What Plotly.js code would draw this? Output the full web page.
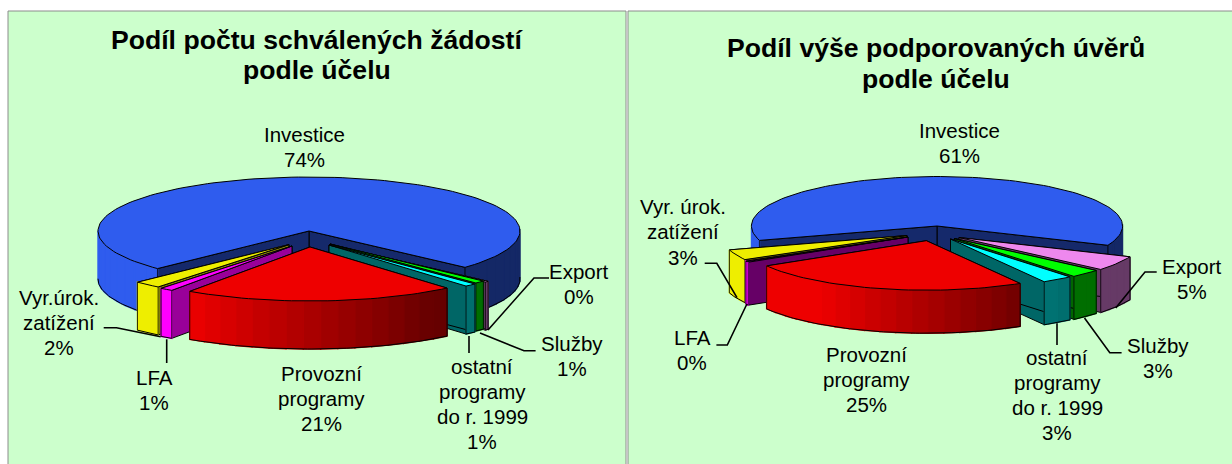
<!DOCTYPE html>
<html>
<head>
<meta charset="utf-8">
<script src="https://cdn.plot.ly/plotly-3.0.1.min.js"></script>
<style>html,body{margin:0;padding:0;background:#fff;overflow:hidden}#c{width:1232px;height:464px}</style>
</head>
<body>
<div id="c"></div>
<script>
// ---- data ----
const titleA = ['Podíl počtu schválených žádostí', 'podle účelu'];
const titleB = ['Podíl výše podporovaných úvěrů', 'podle účelu'];
const categoriesA = ['Investice', 'Export', 'Služby', 'ostatní\nprogramy\ndo r. 1999', 'Provozní\nprogramy', 'LFA', 'Vyr.úrok.\nzatížení'];
const categoriesB = ['Investice', 'Export', 'Služby', 'ostatní\nprogramy\ndo r. 1999', 'Provozní\nprogramy', 'LFA', 'Vyr. úrok.\nzatížení'];
const valuesA = [74.0, 0.3, 0.8, 0.9, 20.9, 1.0, 2.1];
const valuesB = [61.0, 4.8, 2.7, 2.7, 24.9, 0.4, 3.4];

// ---- styles ----
const topColors = ['#2F5CEE', '#EE88EE', '#00FF00', '#00FFFF', '#EE0000', '#FF00FF', '#EEEE00'];
const paintOrder = [0, 1, 2, 3, 6, 5, 4];

// ---- layout of the two pseudo-3D pies ----
const chartA = {
  ax: 'x', ay: 'y', values: valuesA, cats: categoriesA, title: titleA,
  cx: 309, cy: 231, rx: 211, ry: 54, depth: 48, start: 225.9,
  offs: [[0, 0], [23, 14], [21, 13], [20, 14], [1, 16], [-17, 15], [-20, 13.6]],
  wallShade: [0.45, 0.42, 0.4, 0.4, 0.4, 0.6, 0.55],
  titleAt: [316.6, 40, 30],
  labelAt: [[304, 135], [578.5, 271], [572, 343], [482, 366], [321, 373], [154, 377], [59, 297]],
  leaders: [
    [[549, 278], [534, 278], [488, 330]],
    [[535.6, 350.7], [524, 350.7], [480, 333]],
    [[469, 336], [469, 353]],
    [[166.7, 339.3], [166.7, 363]],
    [[103.7, 327.7], [116.5, 327.7], [160.7, 336.7]]
  ]
};
const chartB = {
  ax: 'x2', ay: 'y2', values: valuesB, cats: categoriesB, title: titleB,
  cx: 937, cy: 226, rx: 185.6, ry: 49.5, depth: 43, start: 253.1,
  offs: [[0, 0], [22, 11.5], [17.5, 12.5], [13.5, 13], [-10.6, 14.7], [-29, 11], [-30, 9.5]],
  wallShade: [0.45, 0.43, 0.4, 0.4, 0.4, 0.4, 0.55],
  titleAt: [936, 48, 31],
  labelAt: [[959, 131], [1192, 266], [1158, 345], [1057, 357], [866, 354], [692, 337], [683, 207]],
  leaders: [
    [[1156.7, 272], [1145, 272], [1115.7, 308]],
    [[1121.6, 352.7], [1109.8, 352.7], [1084.5, 318]],
    [[1057, 323.3], [1057, 345]],
    [[716.4, 345], [727.3, 345], [746.9, 304]],
    [[704.7, 263.3], [716.8, 263.3], [737, 297.7]]
  ]
};

function shadeHex(hex, f) {
  const n = parseInt(hex.slice(1), 16);
  const c = [(n >> 16) & 255, (n >> 8) & 255, n & 255].map(v => Math.round(v * f));
  return 'rgb(' + c.join(',') + ')';
}
function arcShade(deg) {
  const t = ((deg % 360) + 360) % 360;
  if (t > 270 || t < 90) return 1;
  return 0.43 + 0.57 * Math.min(1, Math.max(0, (t - 145) / 70));
}
const traces = [];
const annotations = [];
function poly(ch, xs, ys, fill, lineColor, lineWidth) {
  traces.push({
    type: 'scatter', mode: 'lines', x: xs, y: ys, xaxis: ch.ax, yaxis: ch.ay,
    fill: fill ? 'toself' : 'none', fillcolor: fill || undefined,
    line: { color: lineColor, width: lineWidth },
    hoverinfo: 'skip', showlegend: false
  });
}
function drawChart(ch) {
  const total = ch.values.reduce((a, b) => a + b, 0);
  const ranges = [];
  let acc = ch.start;
  ch.values.forEach(v => { const sweep = v / total * 360; ranges.push([acc, acc + sweep]); acc += sweep; });
  paintOrder.forEach(i => {
    const [a, b] = ranges[i];
    const vx = ch.cx + ch.offs[i][0], vy = ch.cy + ch.offs[i][1];
    const px = t => vx + ch.rx * Math.sin(t * Math.PI / 180);
    const py = t => vy - ch.ry * Math.cos(t * Math.PI / 180);
    const base = topColors[i];
    // radial cut walls
    const wall = shadeHex(base, ch.wallShade[i]);
    [b, a].forEach(t => {
      poly(ch, [vx, px(t), px(t), vx, vx], [vy, py(t), py(t) + ch.depth, vy + ch.depth, vy], wall, '#000', 1);
    });
    // outer rim: bands getting darker towards the right
    const n = Math.max(1, Math.ceil((b - a) / 5));
    const edgeX = [], edgeY = [];
    for (let k = 0; k < n; k++) {
      const t0 = a + (b - a) * k / n, t1 = a + (b - a) * (k + 1) / n, tm = (t0 + t1) / 2;
      if (Math.cos(tm * Math.PI / 180) > 0) { edgeX.push(null); edgeY.push(null); continue; }
      const col = shadeHex(base, arcShade(tm));
      const sub = [0, 1, 2, 3, 4].map(j => t0 + (t1 - t0) * j / 4);
      const xs = sub.map(px).concat(sub.slice().reverse().map(px));
      const ys = sub.map(py).concat(sub.slice().reverse().map(t => py(t) + ch.depth));
      poly(ch, xs.concat(xs[0]), ys.concat(ys[0]), col, col, 1.4);
      sub.forEach(t => { edgeX.push(px(t)); edgeY.push(py(t) + ch.depth); });
    }
    poly(ch, edgeX, edgeY, null, '#000', 1);
    [a, b].forEach(t => {
      if (Math.cos(t * Math.PI / 180) < 0) poly(ch, [px(t), px(t)], [py(t), py(t) + ch.depth], null, '#000', 0.8);
    });
    // top face
    const tx = [vx], ty = [vy];
    const m = Math.max(2, Math.ceil((b - a) / 2));
    for (let k = 0; k <= m; k++) { const t = a + (b - a) * k / m; tx.push(px(t)); ty.push(py(t)); }
    tx.push(vx); ty.push(vy);
    poly(ch, tx, ty, base, '#000', 1);
  });
  // leader lines
  ch.leaders.forEach(l => poly(ch, l.map(p => p[0]), l.map(p => p[1]), null, '#000', 1.6));
  // text, line by line to keep the reference's line pitch
  const put = (text, x, y, size, bold) => annotations.push({
    text: bold ? '<b>' + text + '</b>' : text, x, y, xref: ch.ax, yref: ch.ay,
    showarrow: false, xanchor: 'center', yanchor: 'middle',
    font: { family: '"Liberation Sans", Arial, sans-serif', size, color: '#000' }
  });
  ch.title.forEach((t, k) => put(t, ch.titleAt[0], ch.titleAt[1] + k * ch.titleAt[2], 26.6, true));
  ch.cats.forEach((c, i) => {
    const lines = c.split('\n').concat(Math.round(ch.values[i] / total * 100) + '%');
    lines.forEach((t, k) => put(t, ch.labelAt[i][0], ch.labelAt[i][1] + k * 25, 20.5, false));
  });
}
drawChart(chartA);
drawChart(chartB);

const axisOff = { visible: false, showgrid: false, zeroline: false, fixedrange: true };
const W = 1232, H = 464;
const layout = {
  width: W, height: H, margin: { l: 0, r: 0, t: 0, b: 0, pad: 0 },
  paper_bgcolor: '#ffffff', plot_bgcolor: '#CCFFCC', showlegend: false,
  xaxis: Object.assign({}, axisOff, { domain: [8 / W, 626 / W], range: [8, 626] }),
  yaxis: Object.assign({}, axisOff, { domain: [0, 1 - 11 / H], range: [464, 11] }),
  xaxis2: Object.assign({}, axisOff, { domain: [628 / W, 1], range: [628, 1232], anchor: 'y2' }),
  yaxis2: Object.assign({}, axisOff, { domain: [0, 1 - 11 / H], range: [464, 11], anchor: 'x2' }),
  annotations,
  shapes: [
    { type: 'rect', xref: 'paper', yref: 'paper', x0: 8 / W, x1: 626 / W, y0: -0.02, y1: 1 - 11 / H, line: { color: '#8C8C8C', width: 1 }, layer: 'above' },
    { type: 'rect', xref: 'paper', yref: 'paper', x0: 628 / W, x1: 1.01, y0: -0.02, y1: 1 - 11 / H, line: { color: '#8C8C8C', width: 1 }, layer: 'above' }
  ]
};
Plotly.newPlot('c', traces, layout, { staticPlot: true, displayModeBar: false });
</script>
</body>
</html>
